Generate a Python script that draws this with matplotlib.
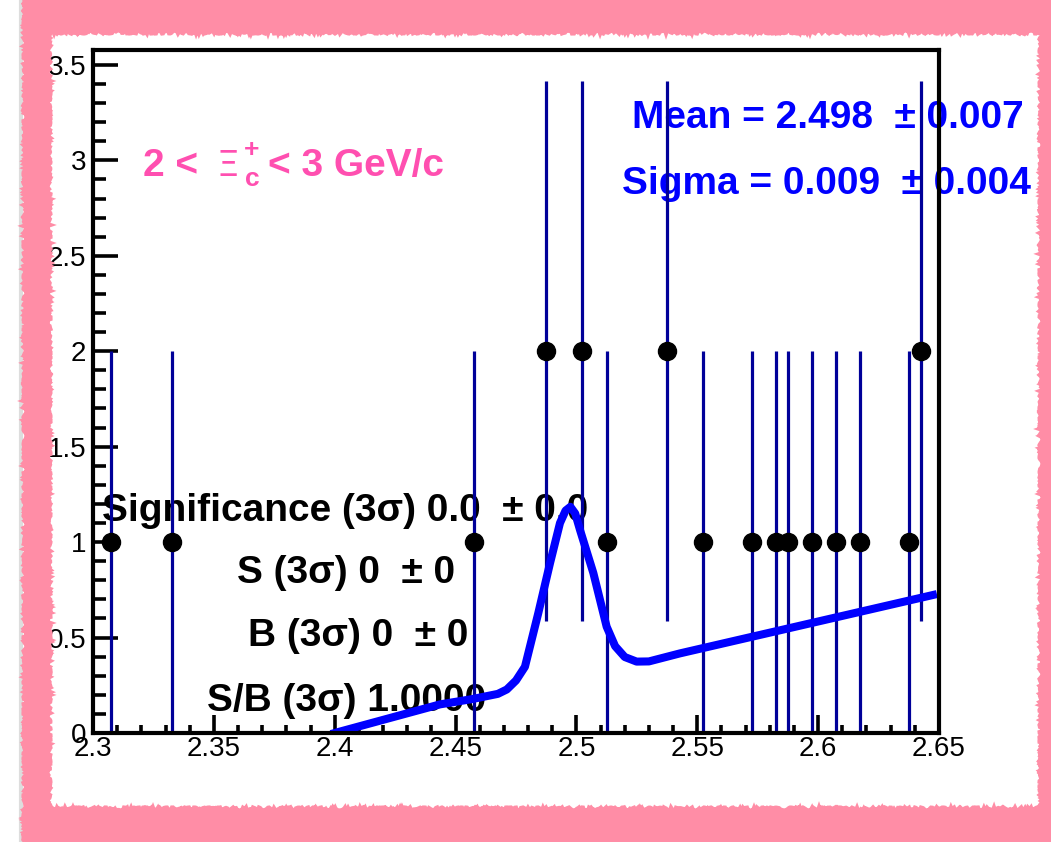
# Xi_c+ invariant mass fit, 2 < pT < 3 GeV/c
import matplotlib
matplotlib.use('Agg')
import matplotlib.pyplot as plt
from matplotlib.lines import Line2D
from matplotlib.patches import Rectangle
from matplotlib.ticker import MultipleLocator

plt.rcParams['font.family'] = ['Liberation Sans', 'DejaVu Sans']

# data: bin centres, counts, errors
mass = [2.3075, 2.3325, 2.4575, 2.4875, 2.5025, 2.5125, 2.5375, 2.5525,
        2.5725, 2.5825, 2.5875, 2.5975, 2.6075, 2.6175, 2.6375, 2.6425]
counts = [1, 1, 1, 2, 2, 1, 2, 1, 1, 1, 1, 1, 1, 1, 1, 2]
errors = [1, 1, 1, 1.414, 1.414, 1, 1.414, 1, 1, 1, 1, 1, 1, 1, 1, 1.414]

# fit curve (gaus + pol1)
fit_x = [2.400, 2.4436, 2.457, 2.4675, 2.4712, 2.4750, 2.4787, 2.4842,
         2.4891, 2.4932, 2.4955, 2.4975, 2.4995, 2.5015, 2.5070, 2.5125,
         2.5160, 2.5200, 2.5249, 2.5300, 2.5428, 2.6475]
fit_y = [0.000, 0.150, 0.178, 0.205, 0.228, 0.275, 0.347, 0.627,
         0.891, 1.100, 1.165, 1.185, 1.150, 1.063, 0.838, 0.557,
         0.455, 0.398, 0.374, 0.375, 0.417, 0.723]

W, H = 1051, 842
fig = plt.figure(figsize=(W / 100, H / 100), dpi=100)
ax = fig.add_axes([93 / W, 1 - 733 / H, (939 - 93) / W, (733 - 50) / H])

def px(x, y):
    return x / W, 1 - y / H

# text boxes (drawn under the data, like in ROOT)
tkw = dict(transform=fig.transFigure, clip_on=False, zorder=1,
           fontsize=28, fontweight='bold', va='baseline', ha='left')
pinkt = '#FF4FB0'
ax.text(*px(143, 176), '2 <', color=pinkt, **tkw)
ax.text(*px(216, 176), r'$\Xi$', color=pinkt, **{**tkw, 'fontsize': 26})
ax.text(*px(244, 157), '+', color=pinkt, **{**tkw, 'fontsize': 19})
ax.text(*px(245, 186), 'c', color=pinkt, **{**tkw, 'fontsize': 19})
ax.text(*px(268, 176), '< 3 GeV/c', color=pinkt, **tkw)
ax.text(*px(632, 128), 'Mean = 2.498  \u00b1 0.007', color='#0000FF', **tkw)
ax.text(*px(622, 194), 'Sigma = 0.009  \u00b1 0.004', color='#0000FF', **tkw)
ax.text(*px(102, 521), 'Significance (3\u03c3) 0.0  \u00b1 0.0', color='black', **tkw)
ax.text(*px(237, 583), 'S (3\u03c3) 0  \u00b1 0', color='black', **tkw)
ax.text(*px(248, 646), 'B (3\u03c3) 0  \u00b1 0', color='black', **tkw)
ax.text(*px(207, 711), 'S/B (3\u03c3) 1.0000', color='black', **tkw)

ax.errorbar(mass, counts, yerr=errors, fmt='o', color='black', ms=13,
            ecolor='#000099', elinewidth=2.3, capsize=0, zorder=3)
ax.plot(fit_x, fit_y, color='#0000FF', lw=5.8, zorder=4)

ax.set_xlim(2.3, 2.65)
ax.set_ylim(0, 3.578)
ax.xaxis.set_minor_locator(MultipleLocator(0.01))
ax.yaxis.set_minor_locator(MultipleLocator(0.1))
ax.set_xticks([2.3, 2.35, 2.4, 2.45, 2.5, 2.55, 2.6, 2.65])
ax.set_xticklabels(['2.3', '2.35', '2.4', '2.45', '2.5', '2.55', '2.6', '2.65'])
ax.set_yticks([0, 0.5, 1, 1.5, 2, 2.5, 3, 3.5])
ax.set_yticklabels(['0', '0.5', '1', '1.5', '2', '2.5', '3', '3.5'])
ax.tick_params(axis='both', which='both', direction='in', width=2.6,
               labelsize=20, top=False, right=False)
ax.tick_params(axis='x', which='major', length=13, pad=2)
ax.tick_params(axis='x', which='minor', length=6)
ax.tick_params(axis='y', which='major', length=18, pad=5)
ax.tick_params(axis='y', which='minor', length=9.5)
for s in ax.spines.values():
    s.set_linewidth(3)
    s.set_zorder(5)

# pink scribbled frame on top of everything
pink = '#FF8DA6'
fig.add_artist(Line2D([21 / W, 21 / W], [0, 1], color='#DDDDDD', lw=3, zorder=9))
bands = [(25, 0, 24, H), (25, 0, W - 25, 32), (25, 809, W - 25, 33), (1041, 0, 10, H)]
for x0, y0, w, h in bands:
    r = Rectangle((x0 / W, 1 - (y0 + h) / H), w / W, h / H,
                  transform=fig.transFigure, facecolor=pink, edgecolor=pink,
                  lw=3, zorder=10)
    r.set_sketch_params(scale=1.5, length=5, randomness=8)
    fig.add_artist(r)

fig.savefig('out.png', dpi=100)
